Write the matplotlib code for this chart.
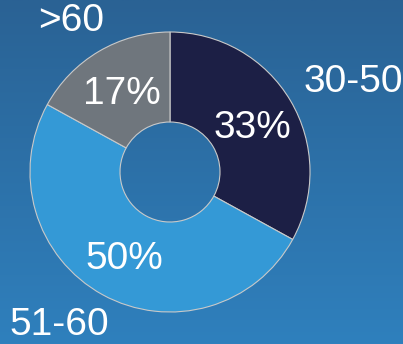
import numpy as np
import matplotlib.pyplot as plt
from matplotlib.colors import LinearSegmentedColormap

# ==============================
# Data
# ==============================
groups = ['30-50', '51-60', '>60']
shares = [33, 50, 17]
colors = ['#1c1f45', '#3499d6', '#6f767d']

# label anchor points (pixels, y up) for the category names
label_xy = [(353, 262), (59, 19), (71, 323)]

plt.rcParams['font.family'] = ['Liberation Sans', 'DejaVu Sans']

W, H = 403, 344
fig = plt.figure(figsize=(W / 100, H / 100), dpi=100)
ax = fig.add_axes([0, 0, 1, 1])

# background gradient (lighter at bottom, darker at top)
cmap = LinearSegmentedColormap.from_list('bg', ['#2f80bd', '#2a6294'])
grad = np.linspace(0, 1, 256).reshape(-1, 1)
ax.imshow(grad, cmap=cmap, extent=[0, W, 0, H], origin='lower',
          aspect='auto', zorder=0)

# ==============================
# Donut
# ==============================
wedges, texts, autotexts = ax.pie(
    shares,
    colors=colors,
    startangle=90,
    counterclock=False,
    center=(170, 172),
    radius=140,
    autopct='%d%%',
    pctdistance=0.68,
    wedgeprops=dict(width=90, edgecolor='#c9c9c9', linewidth=0.8),
    textprops=dict(color='white', fontsize=28),
    frame=True,
)
for t in autotexts:
    t.set_va('center_baseline')

ax.set_xlim(0, W)
ax.set_ylim(0, H)
ax.set_aspect('equal')
ax.axis('off')

for name, (x, y) in zip(groups, label_xy):
    ax.text(x, y, name, color='white', fontsize=28, ha='center', va='center')

fig.savefig('out.png', dpi=100)
plt.close()
